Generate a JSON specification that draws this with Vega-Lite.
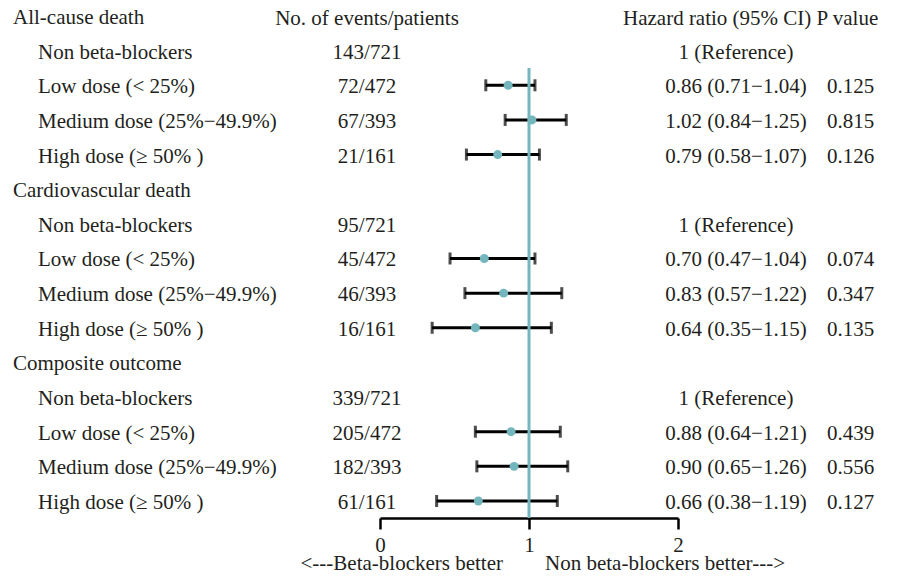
{
  "$schema": "https://vega.github.io/schema/vega-lite/v6.json",
  "width": 906,
  "height": 518,
  "padding": {"left": 0, "top": 0, "right": 0, "bottom": 66},
  "autosize": {"type": "none"},
  "background": "white",
  "config": {
    "view": {"stroke": null},
    "text": {"font": "Liberation Serif", "fontSize": 21, "color": "#231f20"}
  },
  "datasets": {
    "rows": [
      {"row": 0, "type": "header", "label": "All-cause death"},
      {"row": 1, "type": "item", "label": "Non beta-blockers", "events": "143/721", "hrtext": "1 (Reference)", "p": ""},
      {"row": 2, "type": "item", "label": "Low dose (< 25%)", "events": "72/472", "hr": 0.86, "lo": 0.71, "hi": 1.04, "hrtext": "0.86 (0.71−1.04)", "p": "0.125"},
      {"row": 3, "type": "item", "label": "Medium dose (25%−49.9%)", "events": "67/393", "hr": 1.02, "lo": 0.84, "hi": 1.25, "hrtext": "1.02 (0.84−1.25)", "p": "0.815"},
      {"row": 4, "type": "item", "label": "High dose (≥ 50% )", "events": "21/161", "hr": 0.79, "lo": 0.58, "hi": 1.07, "hrtext": "0.79 (0.58−1.07)", "p": "0.126"},
      {"row": 5, "type": "header", "label": "Cardiovascular death"},
      {"row": 6, "type": "item", "label": "Non beta-blockers", "events": "95/721", "hrtext": "1 (Reference)", "p": ""},
      {"row": 7, "type": "item", "label": "Low dose (< 25%)", "events": "45/472", "hr": 0.70, "lo": 0.47, "hi": 1.04, "hrtext": "0.70 (0.47−1.04)", "p": "0.074"},
      {"row": 8, "type": "item", "label": "Medium dose (25%−49.9%)", "events": "46/393", "hr": 0.83, "lo": 0.57, "hi": 1.22, "hrtext": "0.83 (0.57−1.22)", "p": "0.347"},
      {"row": 9, "type": "item", "label": "High dose (≥ 50% )", "events": "16/161", "hr": 0.64, "lo": 0.35, "hi": 1.15, "hrtext": "0.64 (0.35−1.15)", "p": "0.135"},
      {"row": 10, "type": "header", "label": "Composite outcome"},
      {"row": 11, "type": "item", "label": "Non beta-blockers", "events": "339/721", "hrtext": "1 (Reference)", "p": ""},
      {"row": 12, "type": "item", "label": "Low dose (< 25%)", "events": "205/472", "hr": 0.88, "lo": 0.64, "hi": 1.21, "hrtext": "0.88 (0.64−1.21)", "p": "0.439"},
      {"row": 13, "type": "item", "label": "Medium dose (25%−49.9%)", "events": "182/393", "hr": 0.90, "lo": 0.65, "hi": 1.26, "hrtext": "0.90 (0.65−1.26)", "p": "0.556"},
      {"row": 14, "type": "item", "label": "High dose (≥ 50% )", "events": "61/161", "hr": 0.66, "lo": 0.38, "hi": 1.19, "hrtext": "0.66 (0.38−1.19)", "p": "0.127"}
    ]
  },
  "data": {"name": "rows"},
  "layer": [
    {
      "transform": [{"filter": "isValid(datum.hr)"}],
      "mark": {"type": "rule", "color": "black", "strokeWidth": 3},
      "encoding": {
        "x": {
          "field": "lo", "type": "quantitative", "title": null,
          "scale": {"domain": [0, 2], "range": [380, 678], "nice": false, "zero": false},
          "axis": {
            "values": [0, 1, 2], "tickCount": 10, "tickMinStep": 0.01, "format": ".0f", "grid": false,
            "labelFont": "Liberation Serif", "labelFontSize": 21, "labelColor": "#231f20",
            "labelPadding": 5, "labelFlush": false, "labelOverlap": false, "labelBound": false,
            "tickColor": "black", "tickWidth": 2.5, "tickSize": 11,
            "domainColor": "black", "domainWidth": 2.5
          }
        },
        "x2": {"field": "hi"},
        "y": {
          "field": "row", "type": "quantitative", "axis": null,
          "scale": {"domain": [-0.4619, 14.491], "reverse": true, "nice": false, "zero": false}
        }
      }
    },
    {
      "transform": [{"filter": "isValid(datum.hr)"}],
      "mark": {"type": "tick", "orient": "vertical", "color": "black", "size": 12, "thickness": 3},
      "encoding": {
        "x": {"field": "lo", "type": "quantitative", "title": null},
        "y": {"field": "row", "type": "quantitative", "axis": null}
      }
    },
    {
      "transform": [{"filter": "isValid(datum.hr)"}],
      "mark": {"type": "tick", "orient": "vertical", "color": "black", "size": 12, "thickness": 3},
      "encoding": {
        "x": {"field": "hi", "type": "quantitative", "title": null},
        "y": {"field": "row", "type": "quantitative", "axis": null}
      }
    },
    {
      "data": {"values": [{"ref": 1, "top": 1.5, "bottom": 14.491}]},
      "mark": {"type": "rule", "color": "#74b6bd", "strokeWidth": 3},
      "encoding": {
        "x": {"field": "ref", "type": "quantitative", "title": null},
        "y": {"field": "top", "type": "quantitative", "axis": null},
        "y2": {"field": "bottom"}
      }
    },
    {
      "transform": [{"filter": "isValid(datum.hr)"}],
      "mark": {"type": "point", "filled": true, "shape": "circle", "color": "#74b6bd", "size": 80, "opacity": 1},
      "encoding": {
        "x": {"field": "hr", "type": "quantitative", "title": null},
        "y": {"field": "row", "type": "quantitative", "axis": null}
      }
    },
    {
      "transform": [{"filter": "datum.type === 'header'"}],
      "mark": {"type": "text", "align": "left", "baseline": "alphabetic", "dy": 8},
      "encoding": {
        "x": {"datum": -2.4631},
        "y": {"field": "row", "type": "quantitative", "axis": null},
        "text": {"field": "label"}
      }
    },
    {
      "transform": [{"filter": "datum.type === 'item'"}],
      "mark": {"type": "text", "align": "left", "baseline": "alphabetic", "dy": 8},
      "encoding": {
        "x": {"datum": -2.2953},
        "y": {"field": "row", "type": "quantitative", "axis": null},
        "text": {"field": "label"}
      }
    },
    {
      "transform": [{"filter": "datum.type === 'item'"}],
      "mark": {"type": "text", "align": "center", "baseline": "alphabetic", "dy": 8},
      "encoding": {
        "x": {"datum": -0.0872},
        "y": {"field": "row", "type": "quantitative", "axis": null},
        "text": {"field": "events"}
      }
    },
    {
      "transform": [{"filter": "datum.type === 'item'"}],
      "mark": {"type": "text", "align": "center", "baseline": "alphabetic", "dy": 8},
      "encoding": {
        "x": {"datum": 2.3893},
        "y": {"field": "row", "type": "quantitative", "axis": null},
        "text": {"field": "hrtext"}
      }
    },
    {
      "transform": [{"filter": "datum.type === 'item'"}],
      "mark": {"type": "text", "align": "left", "baseline": "alphabetic", "dy": 8},
      "encoding": {
        "x": {"datum": 3.0},
        "y": {"field": "row", "type": "quantitative", "axis": null},
        "text": {"field": "p"}
      }
    },
    {
      "data": {"values": [{"row": 0, "t": "No. of events/patients"}]},
      "mark": {"type": "text", "align": "center", "baseline": "alphabetic", "dy": 9},
      "encoding": {
        "x": {"datum": -0.0872},
        "y": {"field": "row", "type": "quantitative", "axis": null},
        "text": {"field": "t"}
      }
    },
    {
      "data": {"values": [{"row": 0, "t": "Hazard ratio (95% CI) P value"}]},
      "mark": {"type": "text", "align": "left", "baseline": "alphabetic", "dy": 9},
      "encoding": {
        "x": {"datum": 1.6309},
        "y": {"field": "row", "type": "quantitative", "axis": null},
        "text": {"field": "t"}
      }
    },
    {
      "data": {"values": [{"t": "<---Beta-blockers better"}]},
      "mark": {"type": "text", "align": "right", "baseline": "alphabetic"},
      "encoding": {
        "x": {"datum": 0.8255},
        "y": {"datum": 15.99},
        "text": {"field": "t"}
      }
    },
    {
      "data": {"values": [{"t": "Non beta-blockers better--->"}]},
      "mark": {"type": "text", "align": "left", "baseline": "alphabetic"},
      "encoding": {
        "x": {"datum": 1.1074},
        "y": {"datum": 15.99},
        "text": {"field": "t"}
      }
    }
  ]
}
